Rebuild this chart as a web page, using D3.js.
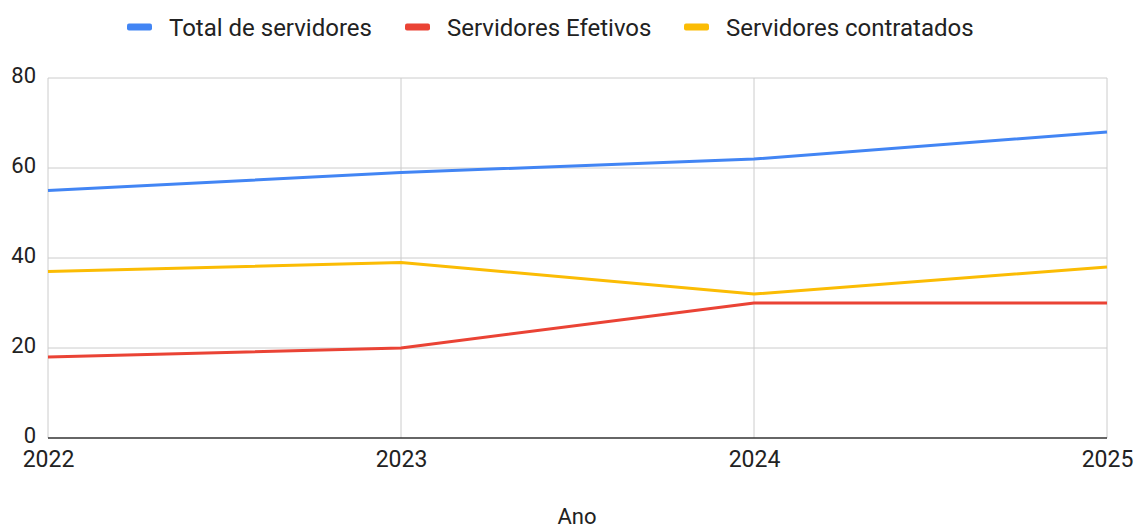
<!DOCTYPE html>
<html><head><meta charset="utf-8">
<script src="https://cdn.jsdelivr.net/npm/d3@7"></script>
<style>body{margin:0;background:#fff;} text{font-family:Roboto,Arial,sans-serif;fill:#222;}</style>
</head><body><svg id="c" width="1136" height="530"></svg>
<script>
const years = ["2022","2023","2024","2025"];
const seriesNames = ["Total de servidores","Servidores Efetivos","Servidores contratados"];
const totalServidores = [55,59,62,68];
const servidoresEfetivos = [18,20,30,30];
const servidoresContratados = [37,39,32,38];
const yTicks = [0,20,40,60,80];
const colors = ["#4285F4","#EA4335","#FBBC04"];
const seriesValues = [totalServidores, servidoresEfetivos, servidoresContratados];

const svg = d3.select("#c");
const m = {l:48, r:1107, t:78, b:438};
const x = d3.scalePoint().domain(years).range([m.l, m.r]);
const y = d3.scaleLinear().domain([0,80]).range([m.b, m.t]);

// grid
svg.append("g").selectAll("line").data(yTicks.filter(d=>d>0)).join("line")
  .attr("x1",m.l).attr("x2",m.r).attr("y1",d=>y(d)).attr("y2",d=>y(d))
  .attr("stroke","#cccccc").attr("stroke-width",1);
svg.append("g").selectAll("line").data(years).join("line")
  .attr("x1",d=>x(d)).attr("x2",d=>x(d)).attr("y1",m.t).attr("y2",m.b)
  .attr("stroke","#cccccc").attr("stroke-width",1);

// y axis labels
const ya = d3.axisLeft(y).tickValues(yTicks).tickSize(0).tickPadding(12);
const gy = svg.append("g").attr("transform",`translate(${m.l},0)`).call(ya);
gy.select(".domain").remove();
gy.selectAll("text").style("font-size","22px").style("font-family","Roboto").attr("fill","#222").attr("dy","0.2em");

// x axis labels
const xa = d3.axisBottom(x).tickSize(0).tickPadding(14);
const gx = svg.append("g").attr("transform",`translate(0,${m.b})`).call(xa);
gx.select(".domain").remove();
gx.selectAll("text").style("font-size","23px").style("font-family","Roboto").attr("fill","#222").attr("dy","0.66em");

// baseline
svg.append("line").attr("x1",m.l).attr("x2",m.r).attr("y1",m.b).attr("y2",m.b)
  .attr("stroke","#333").attr("stroke-width",1.5);

// lines
const line = d3.line().x((d,i)=>x(years[i])).y(d=>y(d));
seriesValues.forEach((vals,i)=>{
  svg.append("path").datum(vals).attr("d",line).attr("fill","none")
    .attr("stroke",colors[i]).attr("stroke-width",3).attr("stroke-linejoin","round");
});

// x title
svg.append("text").attr("x",577).attr("y",524).attr("text-anchor","middle")
  .style("font-size","22px").text("Ano");

// legend
const legX = [127, 405, 684];
seriesNames.forEach((n,i)=>{
  const g = svg.append("g").attr("transform",`translate(${legX[i]},27)`);
  g.append("rect").attr("x",0).attr("y",-3.5).attr("width",25).attr("height",7).attr("rx",2).attr("fill",colors[i]);
  g.append("text").attr("x",42).attr("y",9).style("font-size","24px").text(n);
});
</script></body></html>
